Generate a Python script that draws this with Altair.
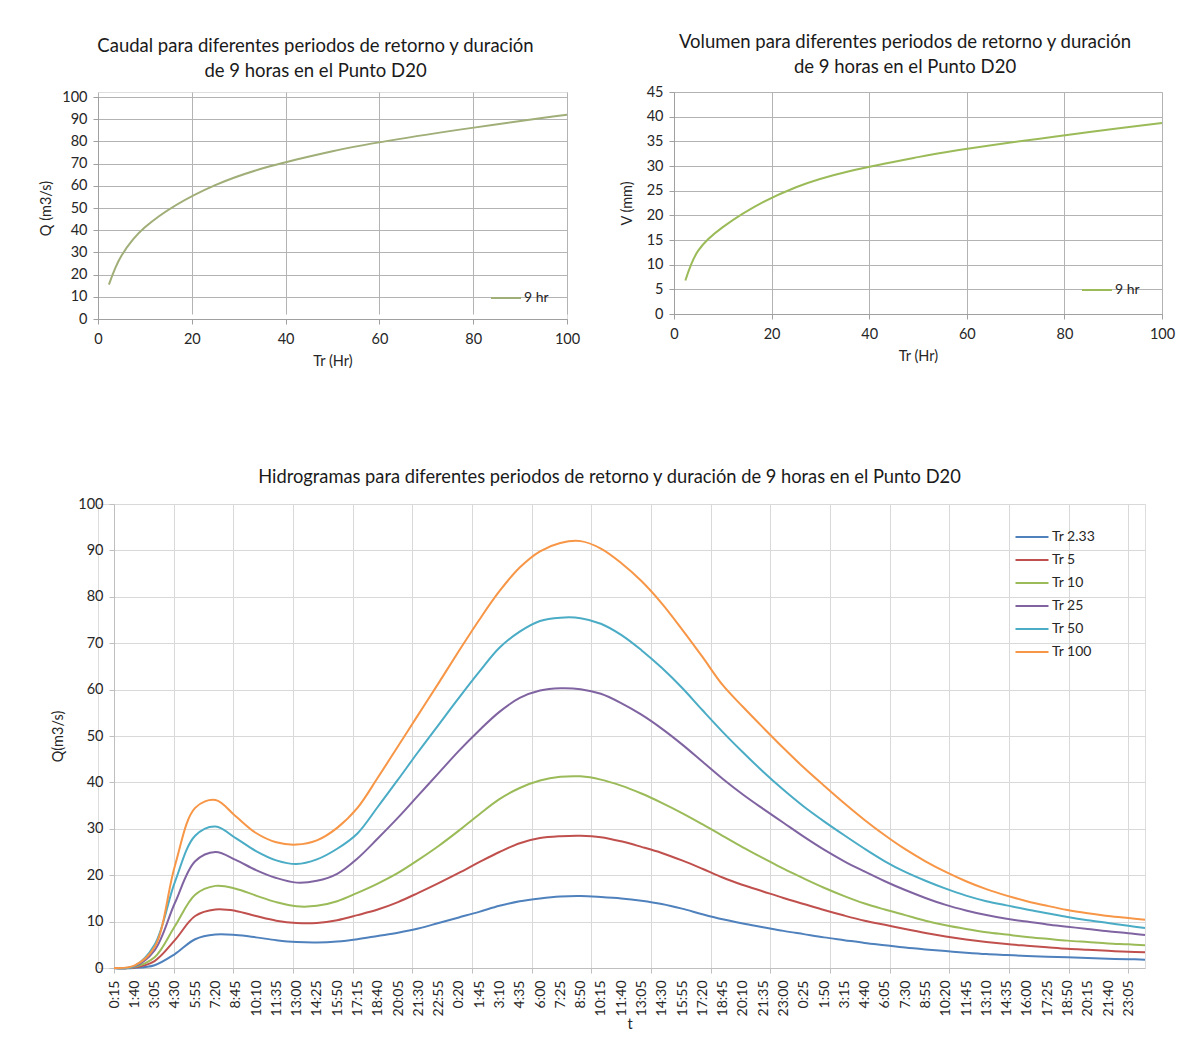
import altair as alt
import pandas as pd

FONT = "Lato"
TXT = "#262626"

# ---------------- top charts ----------------
tr_years = [2.33, 5, 10, 25, 50, 100]
q_max = [15.5, 28.5, 41.3, 60.3, 75.6, 92.0]
v_mm = [6.8, 12.9, 17.6, 25.7, 31.8, 38.7]
top_series = "9 hr"

# ---------------- hydrographs ----------------
time_labels = [
    "0:15", "1:40", "3:05", "4:30", "5:55", "7:20", "8:45", "10:10", "11:35", "13:00",
    "14:25", "15:50", "17:15", "18:40", "20:05", "21:30", "22:55", "0:20", "1:45", "3:10",
    "4:35", "6:00", "7:25", "8:50", "10:15", "11:40", "13:05", "14:30", "15:55", "17:20",
    "18:45", "20:10", "21:35", "23:00", "0:25", "1:50", "3:15", "4:40", "6:05", "7:30",
    "8:55", "10:20", "11:45", "13:10", "14:35", "16:00", "17:25", "18:50", "20:15", "21:40",
    "23:05",
]
label_step_min = 85      # minutes between labelled categories
grid_step_min = 250      # minutes between vertical gridlines
end_minute = 4320        # last record (72 h after 0:15)

series_names = ["Tr 2.33", "Tr 5", "Tr 10", "Tr 25", "Tr 50", "Tr 100"]
series_colors = ["#4F81BD", "#C0504D", "#9BBB59", "#8064A2", "#4BACC6", "#F79646"]

q_tr2 = [0, 0, 0.6, 3.0, 6.2, 7.2, 7.1, 6.6, 6.0, 5.6, 5.5, 5.7, 6.2, 6.9, 7.6, 8.5, 9.7,
         10.9, 12.1, 13.4, 14.4, 15.0, 15.4, 15.5, 15.3, 15.0, 14.5, 13.8, 12.8, 11.6, 10.5,
         9.6, 8.8, 8.0, 7.3, 6.6, 6.0, 5.4, 4.9, 4.4, 4.0, 3.65, 3.3, 3.0, 2.8, 2.6, 2.45,
         2.3, 2.15, 2.0, 1.9, 1.8]
q_tr5 = [0, 0.1, 1.5, 6.0, 11.2, 12.6, 12.3, 11.2, 10.2, 9.7, 9.7, 10.3, 11.4, 12.6, 14.2,
         16.2, 18.3, 20.5, 22.8, 25.0, 26.9, 28.0, 28.4, 28.5, 28.2, 27.3, 26.1, 24.8, 23.2,
         21.4, 19.5, 17.9, 16.5, 15.1, 13.8, 12.5, 11.3, 10.2, 9.3, 8.4, 7.55, 6.8, 6.15,
         5.6, 5.15, 4.8, 4.47, 4.15, 3.92, 3.7, 3.52, 3.4]
q_tr10 = [0, 0.2, 2.3, 9.0, 15.8, 17.7, 17.1, 15.6, 14.2, 13.3, 13.4, 14.4, 16.2, 18.2,
          20.5, 23.3, 26.3, 29.6, 33.1, 36.4, 38.8, 40.4, 41.2, 41.3, 40.6, 39.3, 37.6,
          35.6, 33.4, 31.0, 28.5, 26.0, 23.7, 21.4, 19.3, 17.3, 15.5, 13.9, 12.6, 11.4,
          10.2, 9.2, 8.4, 7.7, 7.2, 6.7, 6.3, 5.9, 5.6, 5.3, 5.1, 4.9]
q_tr25 = [0, 0.3, 3.8, 14.0, 23.0, 25.0, 23.3, 21.1, 19.4, 18.4, 18.8, 20.3, 23.6, 27.9,
          32.4, 37.2, 42.0, 46.8, 51.2, 55.2, 58.2, 59.8, 60.3, 60.1, 59.1, 57.1, 54.6,
          51.6, 48.2, 44.5, 40.8, 37.4, 34.3, 31.3, 28.3, 25.5, 23.0, 20.8, 18.7, 16.8,
          15.1, 13.6, 12.4, 11.4, 10.6, 10.0, 9.4, 8.9, 8.4, 7.9, 7.5, 7.1]
q_tr50 = [0, 0.4, 5.0, 18.5, 28.5, 30.5, 28.0, 25.2, 23.2, 22.4, 23.4, 25.7, 29.0, 34.7,
          40.6, 46.6, 52.4, 58.2, 63.8, 69.0, 72.5, 74.8, 75.5, 75.4, 74.2, 71.8, 68.5,
          64.7, 60.4, 55.6, 50.9, 46.5, 42.3, 38.4, 34.8, 31.6, 28.6, 25.7, 23.0, 20.7,
          18.8, 17.1, 15.6, 14.4, 13.5, 12.6, 11.8, 11.0, 10.3, 9.7, 9.1, 8.6]
q_tr100 = [0, 0.5, 4.5, 22.0, 34.5, 36.2, 32.7, 29.1, 27.1, 26.6, 27.5, 30.2, 34.5, 41.0,
           47.8, 54.6, 61.4, 68.3, 75.0, 81.2, 86.3, 89.8, 91.6, 92.0, 90.4, 87.3, 83.4,
           78.6, 73.0, 67.1, 61.0, 56.3, 51.8, 47.4, 43.2, 39.3, 35.5, 31.9, 28.6, 25.6,
           23.0, 20.7, 18.7, 17.0, 15.6, 14.4, 13.4, 12.5, 11.8, 11.2, 10.75, 10.4]

series_values = [q_tr2, q_tr5, q_tr10, q_tr25, q_tr50, q_tr100]
sample_minutes = [label_step_min * i for i in range(len(time_labels))] + [end_minute]

rows = []
for name, vals in zip(series_names, series_values):
    for m, v in zip(sample_minutes, vals):
        rows.append({"min": m, "Q": v, "serie": name})
hydro = pd.DataFrame(rows)

TICK_FS = 14.5
TITLE_FS = 14.5
TOP_H = 222
TL_DROP = 5   # the left panel sits a few pixels lower than the right one


def top_axis(values, title, label_pad, title_pad):
    return alt.Axis(values=values, title=title, grid=True, gridColor="#b3b3b3",
                    domainColor="#a0a0a0", tickColor="#a0a0a0", tickSize=5,
                    labelFont=FONT, labelFontSize=TICK_FS, labelColor=TXT,
                    labelPadding=label_pad, titlePadding=title_pad,
                    titleFont=FONT, titleFontSize=TITLE_FS, titleColor=TXT,
                    titleFontWeight="normal", labelFlush=False, labelOverlap=False)


def top_legend(lx, ly):
    return alt.Legend(title=None, orient="none", legendX=lx, legendY=ly,
                      symbolType="stroke", symbolStrokeWidth=2, symbolSize=900,
                      labelFont=FONT, labelFontSize=14, labelColor=TXT, labelOffset=2)


def top_title(first_line, dx, dy):
    return alt.Title([first_line, "de 9 horas en el Punto D20"],
                     font=FONT, fontSize=18.5, fontWeight="normal", color="#1a1a1a",
                     lineHeight=25, offset=8, anchor="middle", dx=dx, dy=dy)


# Top-left: caudal
tl_df = pd.DataFrame({"Tr": tr_years, "Q": q_max, "serie": top_series})
tl = alt.Chart(tl_df).mark_line(interpolate="catmull-rom", strokeWidth=2).encode(
    x=alt.X("Tr:Q", scale=alt.Scale(domain=[0, 100], nice=False),
            axis=top_axis([0, 20, 40, 60, 80, 100], "Tr (Hr)", 8, 9)),
    y=alt.Y("Q:Q", scale=alt.Scale(domain=[0, 100], nice=False,
                                   range=[TOP_H + TL_DROP, TL_DROP]),
            axis=top_axis(list(range(0, 101, 10)), "Q (m3/s)", 6, 8)),
    color=alt.Color("serie:N", scale=alt.Scale(range=["#A0AE78"]),
                    legend=top_legend(392, 190)),
).properties(width=469, height=TOP_H + TL_DROP,
             title=top_title("Caudal para diferentes periodos de retorno y duración", -17, -1))

# Top-right: volumen
tr_df = pd.DataFrame({"Tr": tr_years, "V": v_mm, "serie": top_series})
trc = alt.Chart(tr_df).mark_line(interpolate="catmull-rom", strokeWidth=2).encode(
    x=alt.X("Tr:Q", scale=alt.Scale(domain=[0, 100], nice=False),
            axis=top_axis([0, 20, 40, 60, 80, 100], "Tr (Hr)", 8, 9)),
    y=alt.Y("V:Q", scale=alt.Scale(domain=[0, 45], nice=False),
            axis=top_axis(list(range(0, 46, 5)), "V (mm)", 6, 12)),
    color=alt.Color("serie:N", scale=alt.Scale(range=["#9BBB59"]),
                    legend=top_legend(407, 182)),
).properties(width=488, height=TOP_H,
             title=top_title("Volumen para diferentes periodos de retorno y duración", -13, 0))

# Bottom: hydrographs (plot shifted 16 px right of the top-left plot)
SHIFT = 16
PLOT_W = 1031
label_js = "[" + ",".join("'" + t + "'" for t in time_labels) + "]"
last_label_min = label_step_min * (len(time_labels) - 1)
tick_vals = sorted(set(sample_minutes[:-1]) | set(range(0, last_label_min + 1, grid_step_min)))
grid_test = f"datum.value % {grid_step_min} === 0"

x_axis = alt.Axis(
    values=tick_vals,
    labelExpr=f"datum.value % {label_step_min} === 0 ? {label_js}[datum.value / {label_step_min}] : ''",
    labelAngle=270, labelAlign="right", labelBaseline="middle", labelOverlap=False,
    labelFlush=False, labelPadding=7,
    grid=True, gridColor="#d9d9d9",
    gridOpacity={"condition": {"test": grid_test, "value": 1}, "value": 0},
    tickOpacity={"condition": {"test": grid_test, "value": 1}, "value": 0},
    tickColor="#bfbfbf", domainColor="#bfbfbf", tickSize=5,
    labelFont=FONT, labelFontSize=14, labelColor=TXT,
    title="t", titleFont=FONT, titleFontSize=TITLE_FS, titleFontWeight="normal",
    titleColor=TXT, titlePadding=2,
)
y_axis = alt.Axis(
    values=list(range(0, 101, 10)), title="Q(m3/s)", grid=True, gridColor="#d9d9d9",
    domainColor="#bfbfbf", tickColor="#bfbfbf", tickSize=5, offset=-SHIFT,
    labelFont=FONT, labelFontSize=TICK_FS, labelColor=TXT, labelPadding=6,
    titleFont=FONT, titleFontSize=TITLE_FS, titleFontWeight="normal", titleColor=TXT,
    titlePadding=12,
)

bottom = alt.Chart(hydro).mark_line(interpolate="catmull-rom", strokeWidth=2).encode(
    x=alt.X("min:Q", scale=alt.Scale(domain=[0, end_minute], nice=False,
                                     range=[SHIFT, SHIFT + PLOT_W]), axis=x_axis),
    y=alt.Y("Q:Q", scale=alt.Scale(domain=[0, 100], nice=False), axis=y_axis),
    color=alt.Color("serie:N", sort=series_names,
                    scale=alt.Scale(domain=series_names, range=series_colors),
                    legend=alt.Legend(title=None, orient="none", legendX=918, legendY=17,
                                      symbolType="M-1.1,0H1.1", symbolStrokeWidth=2,
                                      symbolSize=900, symbolFillColor="transparent",
                                      labelFont=FONT, labelFontSize=14,
                                      labelColor=TXT, labelOffset=4, rowPadding=-7.5)),
    order=alt.Order("min:Q"),
).properties(
    width=PLOT_W + SHIFT, height=464,
    title=alt.Title("Hidrogramas para diferentes periodos de retorno y duración de 9 horas en el Punto D20",
                    font=FONT, fontSize=18.3, fontWeight="normal", color="#1a1a1a",
                    offset=9, anchor="middle", dx=-12),
)

top_row = alt.hconcat(tl, trc, spacing=37).resolve_scale(color="independent").resolve_legend(
    color="independent")

chart = alt.vconcat(top_row, bottom, spacing=98).properties(
    padding={"left": 30, "top": 24, "right": 5, "bottom": 5}
).resolve_scale(color="independent").resolve_legend(color="independent").configure_view(
    stroke="transparent"
).configure(background="white")

chart.save("out.html", embed_options={"renderer": "svg", "actions": False})
